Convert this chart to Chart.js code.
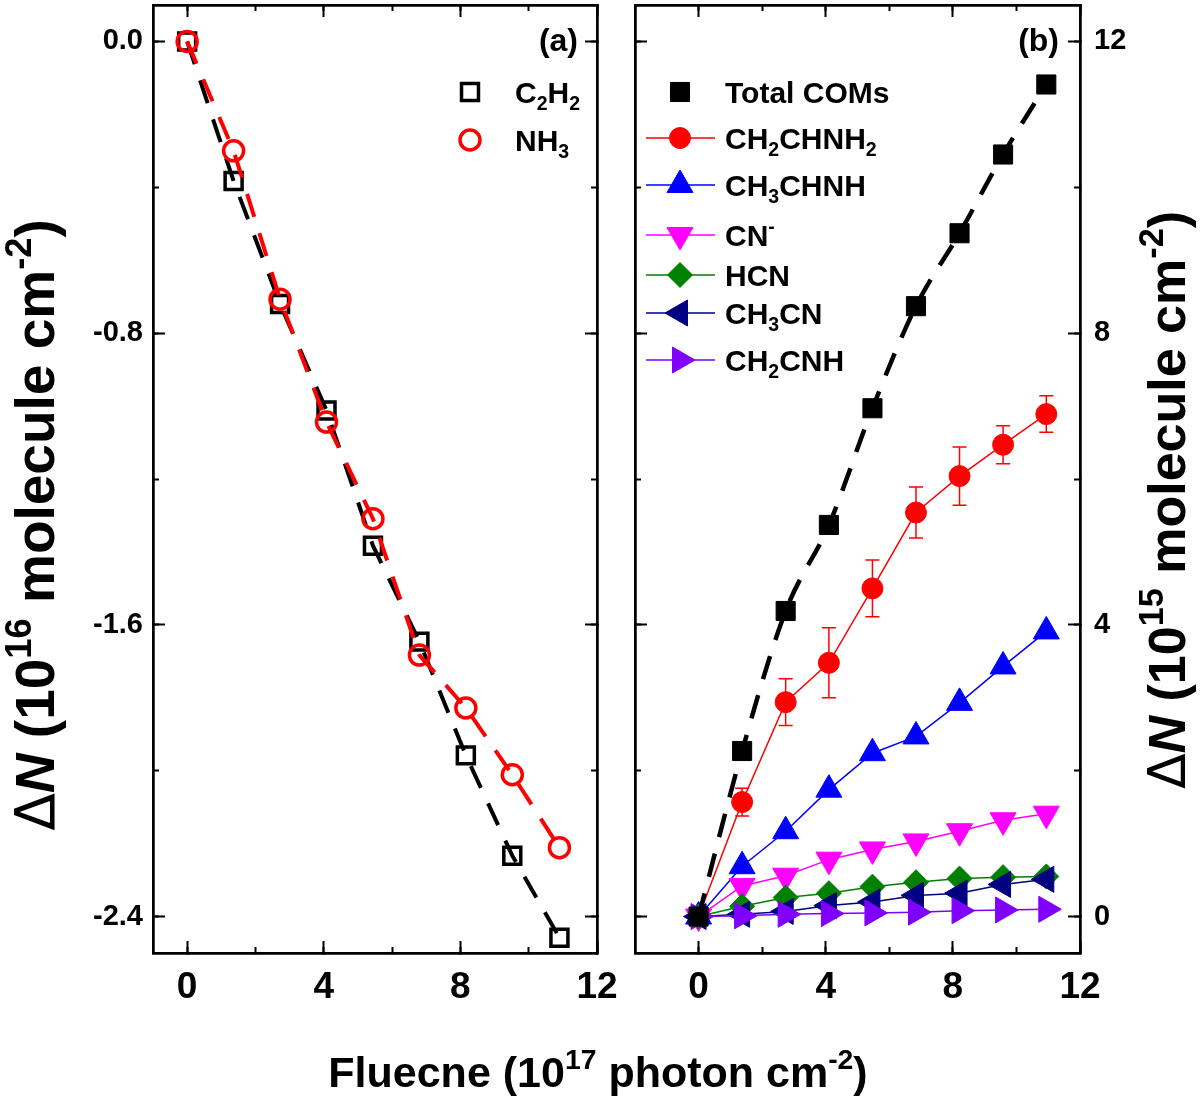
<!DOCTYPE html>
<html><head><meta charset="utf-8">
<script src="https://cdn.jsdelivr.net/npm/chart.js@4.4.1/dist/chart.umd.min.js"></script>
<style>
html,body{margin:0;padding:0;background:#fff;}
#wrap{position:relative;width:1200px;height:1100px;background:#fff;}
canvas{position:absolute;left:0;top:0;}
</style>
</head><body>
<div id="wrap"><canvas id="ca" width="1200" height="1100"></canvas><canvas id="cb" width="1200" height="1100"></canvas></div>
<script>
// ---------- data ----------
const fluenceA = [0, 1.36, 2.72, 4.08, 5.44, 6.8, 8.16, 9.52, 10.9];
const dC2H2 = [0, -0.383, -0.72, -1.012, -1.383, -1.646, -1.958, -2.233, -2.458];
const dNH3 = [0, -0.30, -0.707, -1.044, -1.309, -1.683, -1.828, -2.011, -2.211];

const fluenceB = [0, 1.37, 2.74, 4.1, 5.47, 6.84, 8.21, 9.58, 10.94];
const totalCOMs = [0, 2.27, 4.19, 5.37, 6.97, 8.37, 9.37, 10.45, 11.41];
const ch2chnh2 = [0, 1.57, 2.94, 3.48, 4.50, 5.54, 6.04, 6.47, 6.89];
const ch2chnh2Err = [0, 0.19, 0.32, 0.48, 0.39, 0.35, 0.40, 0.26, 0.25];
const ch3chnh = [0, 0.69, 1.17, 1.74, 2.24, 2.47, 2.93, 3.43, 3.91];
const cnMinus = [0, 0.42, 0.56, 0.78, 0.92, 1.03, 1.17, 1.32, 1.41];
const hcn = [0, 0.14, 0.26, 0.32, 0.41, 0.47, 0.52, 0.54, 0.55];
const ch3cn = [0, 0.03, 0.07, 0.15, 0.20, 0.29, 0.32, 0.44, 0.51];
const ch2cnh = [0, 0.01, 0.03, 0.04, 0.05, 0.06, 0.08, 0.09, 0.10];

const namesA = ['C_2H_2', 'NH_3'];
const namesB = ['Total COMs', 'CH_2CHNH_2', 'CH_3CHNH', 'CN^-', 'HCN', 'CH_3CN', 'CH_2CNH'];

const xTicksMajor = [0, 4, 8, 12];
const xTicksMinor = [0, 2, 4, 6, 8, 10, 12];
const yTicksMajorA = [-2.4, -1.6, -0.8, 0.0];
const yTicksMinorA = [-2.4, -2.0, -1.6, -1.2, -0.8, -0.4, 0.0];
const yTicksMajorB = [0, 4, 8, 12];
const yTicksMinorB = [0, 2, 4, 6, 8, 10, 12];

const xTitle = 'Fluecne (10^{17} photon cm^{-2})';
const yTitleA = 'Δ*N* (10^{16} molecule cm^{-2})';
const yTitleB = 'Δ*N* (10^{15} molecule cm^{-2})';

// ---------- helpers ----------
const FAM = "'Liberation Sans', Arial, Helvetica, sans-serif";

function parseRich(s) {
  const segs = []; let i = 0; let buf = '';
  const push = (t, m) => { if (t) segs.push({t, m}); };
  while (i < s.length) {
    const c = s[i];
    if (c === '_' || c === '^') {
      push(buf, 'n'); buf = '';
      let t;
      if (s[i + 1] === '{') { const j = s.indexOf('}', i + 2); t = s.slice(i + 2, j); i = j + 1; }
      else { t = s[i + 1]; i += 2; }
      push(t, c === '_' ? 'sub' : 'sup');
    } else if (c === '*') {
      push(buf, 'n'); buf = '';
      const j = s.indexOf('*', i + 1); push(s.slice(i + 1, j), 'it'); i = j + 1;
    } else if (c === 'Δ') {
      push(buf, 'n'); buf = ''; push('Δ', 'r'); i++;
    } else { buf += c; i++; }
  }
  push(buf, 'n');
  return segs;
}
function drawRich(ctx, s, x, y, size, align, scriptScale) {
  const sc = scriptScale || 0.62;
  const segs = parseRich(s);
  const fontFor = m => {
    const sz = (m === 'sub' || m === 'sup') ? size * sc : size;
    if (m === 'r') return 'normal ' + sz + "px 'DejaVu Sans', " + FAM;
    return (m === 'it' ? 'italic ' : '') + 'bold ' + sz + 'px ' + FAM;
  };
  let w = 0;
  segs.forEach(g => { ctx.font = fontFor(g.m); g.w = ctx.measureText(g.t).width; w += g.w; });
  let cx = align === 'center' ? x - w / 2 : (align === 'right' ? x - w : x);
  ctx.textAlign = 'left'; ctx.textBaseline = 'alphabetic';
  segs.forEach(g => {
    ctx.font = fontFor(g.m);
    const dy = g.m === 'sub' ? size * 0.24 : (g.m === 'sup' ? -size * 0.42 : 0);
    ctx.fillText(g.t, cx, y + dy);
    cx += g.w;
  });
}
const plain = s => s.replace(/[_^{}*]/g, '');

function axisScale(axis, pos, min, max, ticksArr, len, labelOpts) {
  return {
    type: 'linear', axis: axis, position: pos, min: min, max: max, display: true,
    afterBuildTicks: s => { s.ticks = ticksArr.map(v => ({value: v})); },
    afterFit: s => {
      if (axis === 'x') s.height = 0; else s.width = 0;
      s.paddingTop = 0; s.paddingBottom = 0; s.paddingLeft = 0; s.paddingRight = 0;
      s._computeLabelArea = () => undefined;
    },
    grid: {display: true, drawOnChartArea: false, drawTicks: true, tickLength: -len,
           tickWidth: 2, color: '#000', tickColor: '#000'},
    border: {display: true, color: '#000', width: 2.5},
    ticks: labelOpts ? Object.assign({display: true, color: '#000', autoSkip: false, maxRotation: 0, minRotation: 0}, labelOpts)
                     : {display: false}
  };
}
function buildScales(p) {
  return {
    x: axisScale('x', 'bottom', p.xMin, p.xMax, xTicksMajor, 12,
      {font: {family: FAM, size: 37, weight: 'bold'}, padding: 25, callback: v => String(v)}),
    xMinor: axisScale('x', 'bottom', p.xMin, p.xMax, xTicksMinor, 6, null),
    xTop: axisScale('x', 'top', p.xMin, p.xMax, xTicksMajor, 12, null),
    xTopMinor: axisScale('x', 'top', p.xMin, p.xMax, xTicksMinor, 6, null),
    y: axisScale('y', p.ySide, p.yMin, p.yMax, p.yMajor, 12,
      {font: {family: FAM, size: 29, weight: 'bold'}, padding: p.yPad, callback: p.yFmt}),
    yMinor: axisScale('y', p.ySide, p.yMin, p.yMax, p.yMinorT, 6, null),
    yOpp: axisScale('y', p.ySide === 'left' ? 'right' : 'left', p.yMin, p.yMax, p.yMajor, 12, null),
    yOppMinor: axisScale('y', p.ySide === 'left' ? 'right' : 'left', p.yMin, p.yMax, p.yMinorT, 6, null)
  };
}
const pts = (xs, ys) => xs.map((x, i) => ({x: x, y: ys[i]}));

// ---------- panel (a) ----------
const decoA = {
  id: 'decoA',
  afterDraw(chart) {
    const ctx = chart.ctx;
    ctx.save();
    ctx.fillStyle = '#000';
    drawRich(ctx, xTitle, 598, 1087, 43, 'center', 0.66);
    ctx.save(); ctx.translate(54, 525); ctx.rotate(-Math.PI / 2);
    drawRich(ctx, yTitleA, 0, 0, 55, 'center', 0.66);
    ctx.restore();
    ctx.font = 'bold 32px ' + FAM; ctx.textAlign = 'right'; ctx.textBaseline = 'alphabetic';
    ctx.fillText('(a)', 578, 51);
    const ds = chart.data.datasets;
    const rows = [{d: ds[1], y: 92, name: namesA[0]}, {d: ds[0], y: 140, name: namesA[1]}];
    rows.forEach(r => {
      ctx.save();
      ctx.strokeStyle = r.d.borderColor; ctx.fillStyle = 'rgba(0,0,0,0)'; ctx.lineWidth = r.d.pointBorderWidth;
      Chart.helpers.drawPoint(ctx, {pointStyle: r.d.pointStyle, radius: r.d.pointRadius, rotation: 0, borderWidth: r.d.pointBorderWidth}, 470, r.y);
      ctx.restore();
      ctx.fillStyle = '#000';
      drawRich(ctx, r.name, 515, r.y + 10.5, 30, 'left', 0.65);
    });
    ctx.restore();
  }
};

new Chart(document.getElementById('ca'), {
  type: 'scatter',
  data: {datasets: [
    {label: plain(namesA[1]), data: pts(fluenceA, dNH3), showLine: true, order: 0,
     borderColor: '#ff0000', borderWidth: 4, borderDash: [24, 17],
     pointStyle: 'circle', pointRadius: 10, pointBorderWidth: 3.5,
     pointBorderColor: '#ff0000', pointBackgroundColor: 'rgba(0,0,0,0)', tension: 0},
    {label: plain(namesA[0]), data: pts(fluenceA, dC2H2), showLine: true, order: 1,
     borderColor: '#000000', borderWidth: 4, borderDash: [24, 17],
     pointStyle: 'rect', pointRadius: 12, pointBorderWidth: 3.5,
     pointBorderColor: '#000000', pointBackgroundColor: 'rgba(0,0,0,0)', tension: 0}
  ]},
  options: {
    responsive: false, animation: false, devicePixelRatio: 1,
    layout: {autoPadding: false, padding: {left: 153, top: 5, right: 603, bottom: 147}},
    plugins: {legend: {display: false}, tooltip: {enabled: false}},
    scales: buildScales({xMin: -1, xMax: 12, yMin: -2.5, yMax: 0.1, yMajor: yTicksMajorA, yMinorT: yTicksMinorA,
      ySide: 'left', yPad: 22, yFmt: v => Number(v).toFixed(1)})
  },
  plugins: [decoA]
});

// ---------- panel (b) ----------
const decoB = {
  id: 'decoB',
  beforeDatasetsDraw(chart) {
    const ctx = chart.ctx, xs = chart.scales.x, ys = chart.scales.y;
    ctx.save();
    ctx.strokeStyle = '#ff0000'; ctx.lineWidth = 1.5;
    fluenceB.forEach((xv, i) => {
      const e = ch2chnh2Err[i]; if (!e) return;
      const px = xs.getPixelForValue(xv);
      const t = ys.getPixelForValue(ch2chnh2[i] + e), b = ys.getPixelForValue(ch2chnh2[i] - e);
      ctx.beginPath();
      ctx.moveTo(px, t); ctx.lineTo(px, b);
      ctx.moveTo(px - 7, t); ctx.lineTo(px + 7, t);
      ctx.moveTo(px - 7, b); ctx.lineTo(px + 7, b);
      ctx.stroke();
    });
    ctx.restore();
  },
  afterDraw(chart) {
    const ctx = chart.ctx;
    ctx.save();
    ctx.fillStyle = '#000';
    ctx.save(); ctx.translate(1185, 500); ctx.rotate(-Math.PI / 2);
    drawRich(ctx, yTitleB, 0, 0, 52, 'center', 0.66);
    ctx.restore();
    ctx.font = 'bold 32px ' + FAM; ctx.textAlign = 'right'; ctx.textBaseline = 'alphabetic';
    ctx.fillText('(b)', 1059, 51);
    const ds = chart.data.datasets;
    const legY = [92, 138, 185, 235, 275, 313, 360];
    namesB.forEach((nm, k) => {
      const d = ds.find(q => q.label === plain(nm));
      const y = legY[k];
      if (d.legendLine) {
        ctx.save(); ctx.strokeStyle = d.borderColor; ctx.lineWidth = 1.5;
        ctx.beginPath(); ctx.moveTo(646, y); ctx.lineTo(715, y); ctx.stroke(); ctx.restore();
      }
      ctx.save();
      ctx.strokeStyle = d.pointBorderColor; ctx.fillStyle = d.pointBackgroundColor; ctx.lineWidth = 1;
      Chart.helpers.drawPoint(ctx, {pointStyle: d.pointStyle, radius: d.pointRadius, rotation: d.pointRotation || 0, borderWidth: 1}, 680, y);
      ctx.restore();
      ctx.fillStyle = '#000';
      drawRich(ctx, nm, 725, y + 10.5, 30, 'left', 0.65);
    });
    ctx.restore();
  }
};

function dsB(name, ys, color, style, radius, rot, order, extra) {
  return Object.assign({
    label: plain(name), data: pts(fluenceB, ys), showLine: true, order: order, legendLine: true,
    borderColor: color, borderWidth: 1.5, tension: 0,
    pointStyle: style, pointRadius: radius, pointRotation: rot, pointBorderWidth: 1,
    pointBorderColor: color, pointBackgroundColor: color
  }, extra || {});
}

new Chart(document.getElementById('cb'), {
  type: 'scatter',
  data: {datasets: [
    dsB(namesB[0], totalCOMs, '#000000', 'rect', 13.5, 0, 0,
        {borderWidth: 4.5, borderDash: [24, 17], legendLine: false, tension: 0.3, cubicInterpolationMode: 'monotone'}),
    dsB(namesB[6], ch2cnh, '#8000ff', 'triangle', 15, 90, 1),
    dsB(namesB[5], ch3cn, '#000080', 'triangle', 15, -90, 2),
    dsB(namesB[4], hcn, '#008000', 'rectRot', 12.5, 0, 3),
    dsB(namesB[3], cnMinus, '#ff00ff', 'triangle', 15, 180, 4),
    dsB(namesB[2], ch3chnh, '#0000ff', 'triangle', 15, 0, 5),
    dsB(namesB[1], ch2chnh2, '#ff0000', 'circle', 10.5, 0, 6)
  ]},
  options: {
    responsive: false, animation: false, devicePixelRatio: 1,
    layout: {autoPadding: false, padding: {left: 635, top: 5, right: 120, bottom: 147}},
    plugins: {legend: {display: false}, tooltip: {enabled: false}},
    scales: buildScales({xMin: -2, xMax: 12, yMin: -0.5, yMax: 12.5, yMajor: yTicksMajorB, yMinorT: yTicksMinorB,
      ySide: 'right', yPad: 26, yFmt: v => String(v)})
  },
  plugins: [decoB]
});
</script>
</body></html>
